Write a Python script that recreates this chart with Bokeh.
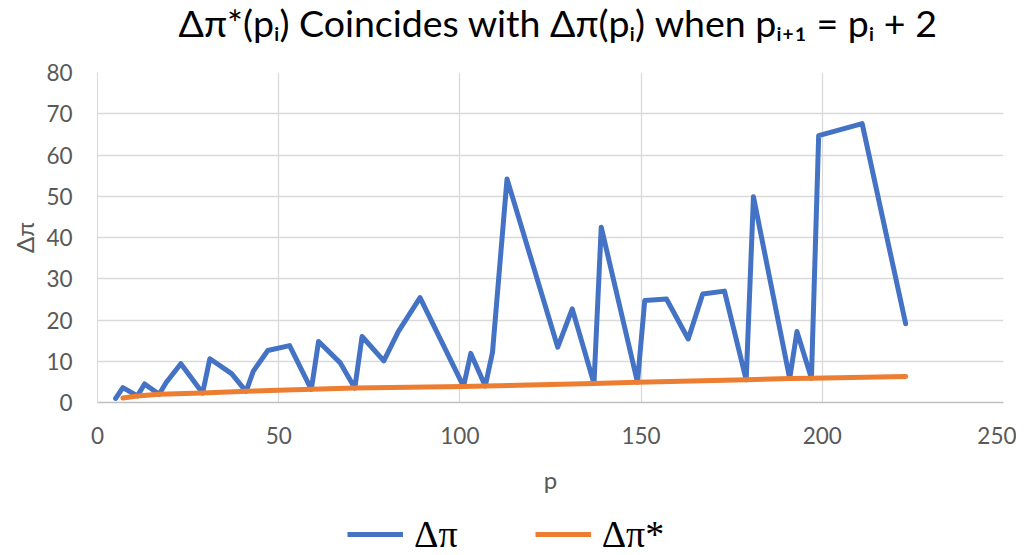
from bokeh.plotting import figure
from bokeh.models import Range1d, FixedTicker, Legend, LegendItem, Label
from bokeh.layouts import column
from bokeh.embed import file_html
from bokeh.resources import INLINE

# Δπ (blue) at primes p
p_vals = [5, 7, 11, 13, 17, 19, 23, 29, 31, 37, 41, 43, 47, 53, 59, 61, 67, 71, 73,
          79, 83, 89, 101, 103, 107, 109, 113, 127, 131, 137, 139, 149, 151, 157,
          163, 167, 173, 179, 181, 191, 193, 197, 199, 211, 223]
dpi_vals = [1.0, 3.6, 1.6, 4.5, 2.0, 4.9, 9.4, 2.3, 10.6, 7.0, 2.7, 7.6, 12.6, 13.8,
            3.2, 14.8, 9.6, 3.5, 16.0, 10.1, 17.2, 25.4, 3.9, 11.9, 4.0, 12.2, 54.2,
            13.4, 22.7, 4.6, 42.5, 4.9, 24.7, 25.1, 15.4, 26.3, 27.0, 5.5, 49.9, 5.8,
            17.2, 5.9, 64.7, 67.6, 19.1]

# Δπ* (orange)
ps_vals = [7, 11, 17, 29, 41, 59, 71, 101, 107, 137, 149, 179, 191, 197, 223]
dpis_vals = [1.1, 1.6, 2.0, 2.3, 2.7, 3.2, 3.5, 3.9, 4.0, 4.6, 4.9, 5.5, 5.8, 5.9, 6.3]

x_ticks = [0, 50, 100, 150, 200, 250]
y_ticks = [0, 10, 20, 30, 40, 50, 60, 70, 80]

TITLE = "Δπ*(pᵢ) Coincides with Δπ(pᵢ) when pᵢ₊₁ = pᵢ + 2"
FONT = "Lato"
GRAY = "#595959"
BLUE = "#4472C4"
ORANGE = "#ED7D31"
NAN = float("nan")


def strip(height):
    s = figure(width=1016, height=height, output_backend="svg", toolbar_location=None,
               x_range=Range1d(0, 1), y_range=Range1d(0, 1),
               x_axis_location=None, y_axis_location=None,
               min_border=0, min_border_left=0, min_border_right=0,
               min_border_top=0, min_border_bottom=0)
    s.outline_line_color = None
    s.xgrid.visible = False
    s.ygrid.visible = False
    return s


# title strip
tt = strip(44)
tt.add_layout(Label(x=81, y=22, x_units="screen", y_units="screen", text=TITLE,
                    text_font=FONT, text_font_size="37.5px", text_color="#000000",
                    text_align="left", text_baseline="middle"))

# main chart
p = figure(frame_width=906, frame_height=330, output_backend="svg", toolbar_location=None,
           x_range=Range1d(0, 250), y_range=Range1d(0, 80),
           min_border_left=97, min_border_right=13, min_border_top=28,
           min_border_bottom=98)
p.outline_line_color = None

r1 = p.line(p_vals, dpi_vals, line_color=BLUE, line_width=5,
            line_join="round", line_cap="round")
r2 = p.line(ps_vals, dpis_vals, line_color=ORANGE, line_width=5,
            line_join="round", line_cap="round")

p.xaxis.ticker = FixedTicker(ticks=x_ticks)
p.yaxis.ticker = FixedTicker(ticks=y_ticks)
for ax in (p.xaxis[0], p.yaxis[0]):
    ax.major_tick_line_color = None
    ax.minor_tick_line_color = None
    ax.major_tick_out = 0
    ax.major_tick_in = 0
    ax.minor_tick_out = 0
    ax.minor_tick_in = 0
    ax.major_label_text_font = FONT
    ax.major_label_text_font_size = "22.5px"
    ax.major_label_text_color = GRAY
    ax.axis_label_text_font = FONT
    ax.axis_label_text_font_size = "24px"
    ax.axis_label_text_color = GRAY
    ax.axis_label_text_font_style = "normal"

p.xaxis.axis_label = "p"
p.yaxis.axis_label = "Δπ"
p.xaxis.axis_line_color = "#bfbfbf"
p.xaxis.axis_line_width = 1.5
p.yaxis.axis_line_color = "#d9d9d9"
p.xaxis.major_label_standoff = 24
p.xaxis.axis_label_standoff = 18
p.yaxis.major_label_standoff = 25
p.yaxis.axis_label_standoff = 4

p.xgrid.grid_line_color = "#d9d9d9"
p.ygrid.grid_line_color = "#d9d9d9"
p.xgrid.grid_line_width = 1.3
p.ygrid.grid_line_width = 1.3

# legend strip below the chart (its keys are empty placeholder renderers)
lg = strip(55)
k1 = lg.line([NAN], [NAN], line_color=BLUE, line_width=5)
k2 = lg.line([NAN], [NAN], line_color=ORANGE, line_width=5)
legend = Legend(items=[LegendItem(label="Δπ", renderers=[k1]),
                       LegendItem(label="Δπ*", renderers=[k2])],
                orientation="horizontal", location=(250, -1),
                label_text_font="Liberation Serif", label_text_font_size="38px",
                label_text_color="#000000",
                glyph_width=56, glyph_height=20, label_standoff=11, spacing=77,
                border_line_color=None, background_fill_alpha=0, padding=0, margin=0)
lg.add_layout(legend, "center")

open("out.html", "w").write(file_html(column(tt, p, lg, spacing=0), INLINE))
